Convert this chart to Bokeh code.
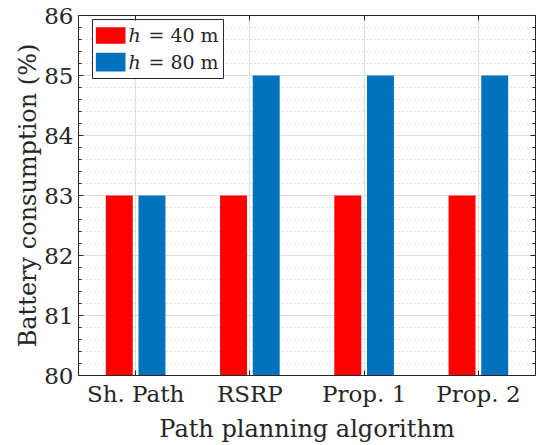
from bokeh.plotting import figure
from bokeh.models import (Range1d, LinearAxis, FixedTicker,
                          SingleIntervalTicker, ColumnDataSource)
from bokeh.transform import dodge
from bokeh.core.properties import value
from bokeh.embed import file_html
from bokeh.resources import INLINE

# ---- data ----
algorithms = ["Sh. Path", "RSRP", "Prop. 1", "Prop. 2"]
consumption_h40 = [83, 83, 83, 83]
consumption_h80 = [83, 85, 85, 85]
legend_heights = ["40", "80"]
y_start, y_end = 80, 86

FONT = "DejaVu Serif"
RED = "#FF0000"
BLUE = "#0072BD"
AX = "#262626"

pos = list(range(1, len(algorithms) + 1))
yticks = list(range(y_start, y_end + 1))
src = ColumnDataSource(dict(pos=pos, h40=consumption_h40, h80=consumption_h80))

p = figure(x_range=Range1d(0.5, len(algorithms) + 0.5),
           y_range=Range1d(y_start, y_end),
           width=547, height=445, output_backend="svg", toolbar_location=None,
           min_border_left=78, min_border_right=12, min_border_top=15,
           min_border_bottom=70, x_axis_label="Path planning algorithm",
           y_axis_label="Battery consumption (%)")
p.outline_line_color = None
p.background_fill_color = "white"
p.border_fill_color = "white"

p.vbar(x=dodge("pos", -0.143), top="h40", bottom=y_start,
       width=0.236, source=src, fill_color=RED, line_color=None)
p.vbar(x=dodge("pos", 0.143), top="h80", bottom=y_start,
       width=0.236, source=src, fill_color=BLUE, line_color=None)

p.xaxis.ticker = FixedTicker(ticks=pos)
p.xaxis.major_label_overrides = {i: a for i, a in zip(pos, algorithms)}
p.yaxis.ticker = SingleIntervalTicker(interval=1, num_minor_ticks=5)

# extra axes (box) without labels
right_ax = LinearAxis(ticker=SingleIntervalTicker(interval=1, num_minor_ticks=5),
                      major_label_overrides={t: "" for t in yticks})
top_ax = LinearAxis(ticker=FixedTicker(ticks=pos),
                    major_label_overrides={i: "" for i in pos})
p.add_layout(right_ax, "right")
p.add_layout(top_ax, "above")

for ax in p.axis:
    ax.axis_line_color = AX
    ax.major_tick_line_color = AX
    ax.minor_tick_line_color = AX
    ax.major_tick_in = 5
    ax.major_tick_out = 0
    ax.minor_tick_in = 3
    ax.minor_tick_out = 0
    ax.major_label_text_font = FONT
    ax.major_label_text_font_size = "23px"
    ax.major_label_text_color = AX
    ax.axis_label_text_font = FONT
    ax.axis_label_text_font_size = "24px"
    ax.axis_label_text_font_style = "normal"
    ax.axis_label_text_color = AX

right_ax.major_label_standoff = 0
top_ax.major_label_standoff = 0
p.xaxis[0].minor_tick_in = 0
top_ax.minor_tick_in = 0

p.yaxis[0].major_label_standoff = 5
p.yaxis[0].axis_label_standoff = -1
p.xaxis[0].major_label_standoff = 22
p.xaxis[0].axis_label_standoff = -3

p.xgrid.ticker = FixedTicker(ticks=pos)
p.xgrid.grid_line_color = "#dfdfdf"
p.ygrid.grid_line_color = "#dfdfdf"
p.ygrid.minor_grid_line_color = "#c4c4c4"
p.ygrid.minor_grid_line_dash = "1 3"

# ---- legend (drawn manually) ----
p.quad(left=0.6225, right=1.769, top=85.933, bottom=84.95,
       fill_color="white", line_color=AX, line_width=1)
p.quad(left=0.652, right=0.911, top=85.805, bottom=85.528,
       fill_color=RED, line_color=None)
p.quad(left=0.652, right=0.911, top=85.378, bottom=85.067,
       fill_color=BLUE, line_color=None)
ly = [85.667, 85.222]
p.text(x=[0.937, 0.937], y=ly, text=["h", "h"],
       text_font=value(FONT), text_font_style="italic", text_font_size="19px",
       text_baseline="middle", text_color=AX)
p.text(x=[1.112, 1.112], y=ly, text=["= " + h + " m" for h in legend_heights],
       text_font=value(FONT), text_font_size="19px",
       text_baseline="middle", text_color=AX)

open("out.html", "w").write(file_html(p, INLINE))
